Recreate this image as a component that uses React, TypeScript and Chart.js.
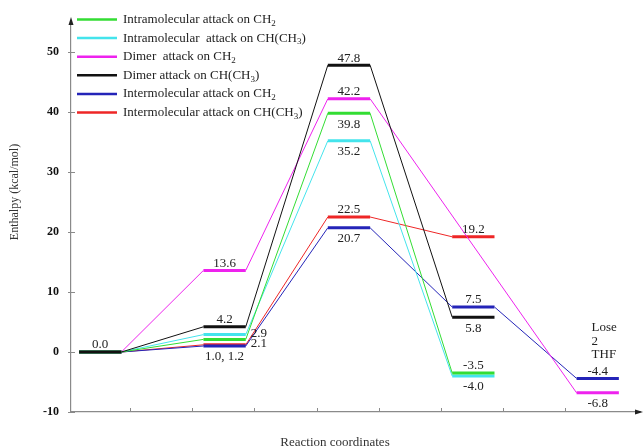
import React, { useEffect, useRef } from "react";
import { Chart, registerables } from "chart.js";

Chart.register(...registerables);

const FONT = '"Liberation Serif", "Times New Roman", serif';

// Reaction stages (x categories)
const stages = ["Reactants", "Complex", "Transition state", "Product", "Lose 2 THF"];

// Series names and enthalpies (kcal/mol) per stage; null = no level at that stage
const seriesNames = [
  "Intramolecular attack on CH₂",
  "Intramolecular  attack on CH(CH₃)",
  "Dimer  attack on CH₂",
  "Dimer attack on CH(CH₃)",
  "Intermolecular attack on CH₂",
  "Intermolecular attack on CH(CH₃)",
];
const intraCH2 = [0.0, 2.1, 39.8, -3.5, null];
const intraCHCH3 = [0.0, 2.9, 35.2, -4.0, null];
const dimerCH2 = [0.0, 13.6, 42.2, null, -6.8];
const dimerCHCH3 = [0.0, 4.2, 47.8, 5.8, null];
const interCH2 = [0.0, 1.0, 20.7, 7.5, -4.4];
const interCHCH3 = [0.0, 1.2, 22.5, 19.2, null];
const seriesColors = ["#33dd33", "#44e4ec", "#ee22ee", "#111111", "#2424b8", "#ee2626"];

// Axis ticks
const yTickValues = [-10, 0, 10, 20, 30, 40, 50];
const xTickValues = [1, 2, 3, 4, 5, 6, 7, 8];

// Value labels: text, stage, anchored value, placement
const labelTexts = ["0.0", "13.6", "4.2", "2.9", "2.1", "1.0, 1.2", "47.8", "42.2", "39.8", "35.2", "22.5", "20.7", "19.2", "7.5", "5.8", "-3.5", "-4.0", "-4.4", "-6.8"];
const labelStages = [0, 1, 1, 1, 1, 1, 2, 2, 2, 2, 2, 2, 3, 3, 3, 3, 3, 4, 4];
const labelValues = [0.0, 13.6, 4.2, 2.9, 1.2, 1.0, 47.8, 42.2, 39.8, 35.2, 22.5, 20.7, 19.2, 7.5, 5.8, -3.5, -4.0, -4.4, -6.8];
const labelPlacements = ["above", "above", "above", "right", "right", "below", "above", "above", "below", "below", "above", "below", "above", "above", "below", "above", "below", "above", "below"];

const noteLines = ["Lose", "2", "THF"];
const noteStage = 4;
const noteValue = 4.0;

const yTitle = "Enthalpy (kcal/mol)";
const xTitle = "Reaction coordinates";

const allSeries = [intraCH2, intraCHCH3, dimerCH2, dimerCHCH3, interCH2, interCHCH3];

const stageStart = (k: number) => 2 * k + 0.18;
const stageEnd = (k: number) => 2 * k + 0.86;

function buildPoints(values: (number | null)[]) {
  const pts: { x: number; y: number }[] = [];
  values.forEach((v, k) => {
    if (v === null) return;
    pts.push({ x: stageStart(k), y: v });
    pts.push({ x: stageEnd(k), y: v });
  });
  return pts;
}

function drawRich(ctx: CanvasRenderingContext2D, text: string, x: number, y: number, size: number) {
  const subs = "₀₁₂₃₄₅₆₇₈₉";
  const runs: { t: string; sub: boolean }[] = [];
  for (const ch of text) {
    const i = subs.indexOf(ch);
    const sub = i >= 0;
    const c = sub ? String(i) : ch;
    if (runs.length && runs[runs.length - 1].sub === sub) runs[runs.length - 1].t += c;
    else runs.push({ t: c, sub });
  }
  let cx = x;
  ctx.textAlign = "left";
  ctx.textBaseline = "middle";
  for (const r of runs) {
    if (r.sub) {
      ctx.font = `${Math.round(size * 0.72)}px ${FONT}`;
      ctx.fillText(r.t, cx, y + size * 0.3);
    } else {
      ctx.font = `${size}px ${FONT}`;
      ctx.fillText(r.t, cx, y);
    }
    cx += ctx.measureText(r.t).width;
  }
}

const decorPlugin = {
  id: "decor",
  afterDraw(chart: any) {
    const ctx: CanvasRenderingContext2D = chart.ctx;
    const xs = chart.scales.x;
    const ys = chart.scales.y;
    const area = chart.chartArea;
    ctx.save();

    // axis tick marks
    ctx.strokeStyle = "#8a8a8a";
    ctx.lineWidth = 1;
    yTickValues.forEach((v) => {
      const py = Math.round(ys.getPixelForValue(v)) + 0.5;
      ctx.beginPath();
      ctx.moveTo(area.left - 3, py);
      ctx.lineTo(area.left + 4, py);
      ctx.stroke();
    });
    xTickValues.forEach((v) => {
      const px = Math.round(xs.getPixelForValue(v)) + 0.5;
      ctx.beginPath();
      ctx.moveTo(px, area.bottom - 4);
      ctx.lineTo(px, area.bottom);
      ctx.stroke();
    });

    // arrows
    ctx.fillStyle = "#222";
    ctx.beginPath();
    ctx.moveTo(area.left, area.top - 5);
    ctx.lineTo(area.left - 2.5, area.top + 3);
    ctx.lineTo(area.left + 2.5, area.top + 3);
    ctx.closePath();
    ctx.fill();
    ctx.beginPath();
    ctx.moveTo(area.right + 3, area.bottom);
    ctx.lineTo(area.right - 5, area.bottom - 2.5);
    ctx.lineTo(area.right - 5, area.bottom + 2.5);
    ctx.closePath();
    ctx.fill();

    // value labels
    ctx.fillStyle = "#222";
    ctx.font = `13px ${FONT}`;
    ctx.textBaseline = "middle";
    labelTexts.forEach((t, i) => {
      const k = labelStages[i];
      const py = ys.getPixelForValue(labelValues[i]);
      const x0 = xs.getPixelForValue(stageStart(k));
      const x1 = xs.getPixelForValue(stageEnd(k));
      const p = labelPlacements[i];
      if (p === "right") {
        ctx.textAlign = "left";
        ctx.fillText(t, x1 + 5, py - 1);
      } else {
        ctx.textAlign = "center";
        ctx.fillText(t, (x0 + x1) / 2, p === "above" ? py - 7 : py + 11);
      }
    });

    // note
    ctx.textAlign = "left";
    const nx = xs.getPixelForValue(stageStart(noteStage)) + 15;
    const ny = ys.getPixelForValue(noteValue);
    noteLines.forEach((l, i) => ctx.fillText(l, nx, ny + i * 13.5));

    // legend
    seriesNames.forEach((name, i) => {
      const ly = 19.5 + i * 18.6;
      ctx.strokeStyle = seriesColors[i];
      ctx.lineWidth = 2.5;
      ctx.beginPath();
      ctx.moveTo(77, ly);
      ctx.lineTo(117, ly);
      ctx.stroke();
      ctx.fillStyle = "#222";
      drawRich(ctx, name, 123, ly, 13);
    });

    // titles
    ctx.fillStyle = "#333";
    ctx.font = `12px ${FONT}`;
    ctx.textAlign = "center";
    ctx.textBaseline = "middle";
    ctx.save();
    ctx.translate(15, 192);
    ctx.rotate(-Math.PI / 2);
    ctx.fillText(yTitle, 0, 0);
    ctx.restore();
    ctx.font = `13px ${FONT}`;
    ctx.textBaseline = "alphabetic";
    ctx.fillText(xTitle, 335, 446);

    ctx.restore();
  },
};

export default function App() {
  const ref = useRef<HTMLCanvasElement | null>(null);
  useEffect(() => {
    document.body.style.margin = "0";
    const datasets = allSeries.map((vals, i) => ({
      label: seriesNames[i],
      data: buildPoints(vals),
      borderColor: seriesColors[i],
      backgroundColor: seriesColors[i],
      borderWidth: 1,
      pointRadius: 0,
      pointHoverRadius: 0,
      tension: 0,
      fill: false,
      order: i === 3 ? -1 : i,
      segment: {
        borderWidth: (c: any) => (c.p0DataIndex % 2 === 0 ? 3 : 1),
      },
    }));
    const chart = new Chart(ref.current as HTMLCanvasElement, {
      type: "line",
      data: { datasets },
      options: {
        animation: false,
        responsive: true,
        maintainAspectRatio: false,
        layout: { padding: { top: 22, right: 4, left: 0, bottom: 0 } },
        plugins: { legend: { display: false }, tooltip: { enabled: false } },
        scales: {
          x: {
            type: "linear",
            min: 0.05,
            max: 9.2,
            afterBuildTicks: (s: any) => {
              s.ticks = xTickValues.map((v) => ({ value: v }));
            },
            afterFit: (s: any) => {
              s.height = 35;
            },
            ticks: { display: false },
            grid: { display: false, drawTicks: false },
            border: { display: true, color: "#8a8a8a", width: 1.2 },
          },
          y: {
            type: "linear",
            min: -10,
            max: 55,
            afterBuildTicks: (s: any) => {
              s.ticks = yTickValues.map((v) => ({ value: v }));
            },
            afterFit: (s: any) => {
              s.width = 71;
            },
            ticks: {
              padding: 12,
              color: "#111",
              font: { family: FONT, size: 12, weight: "bold" },
            },
            grid: { display: false, drawTicks: false },
            border: { display: true, color: "#8a8a8a", width: 1.2 },
          },
        },
      },
      plugins: [decorPlugin],
    });
    return () => chart.destroy();
  }, []);
  return (
    <div style={{ position: "relative", width: 644, height: 447 }}>
      <canvas ref={ref} aria-label={stages.join(", ")} />
    </div>
  );
}
